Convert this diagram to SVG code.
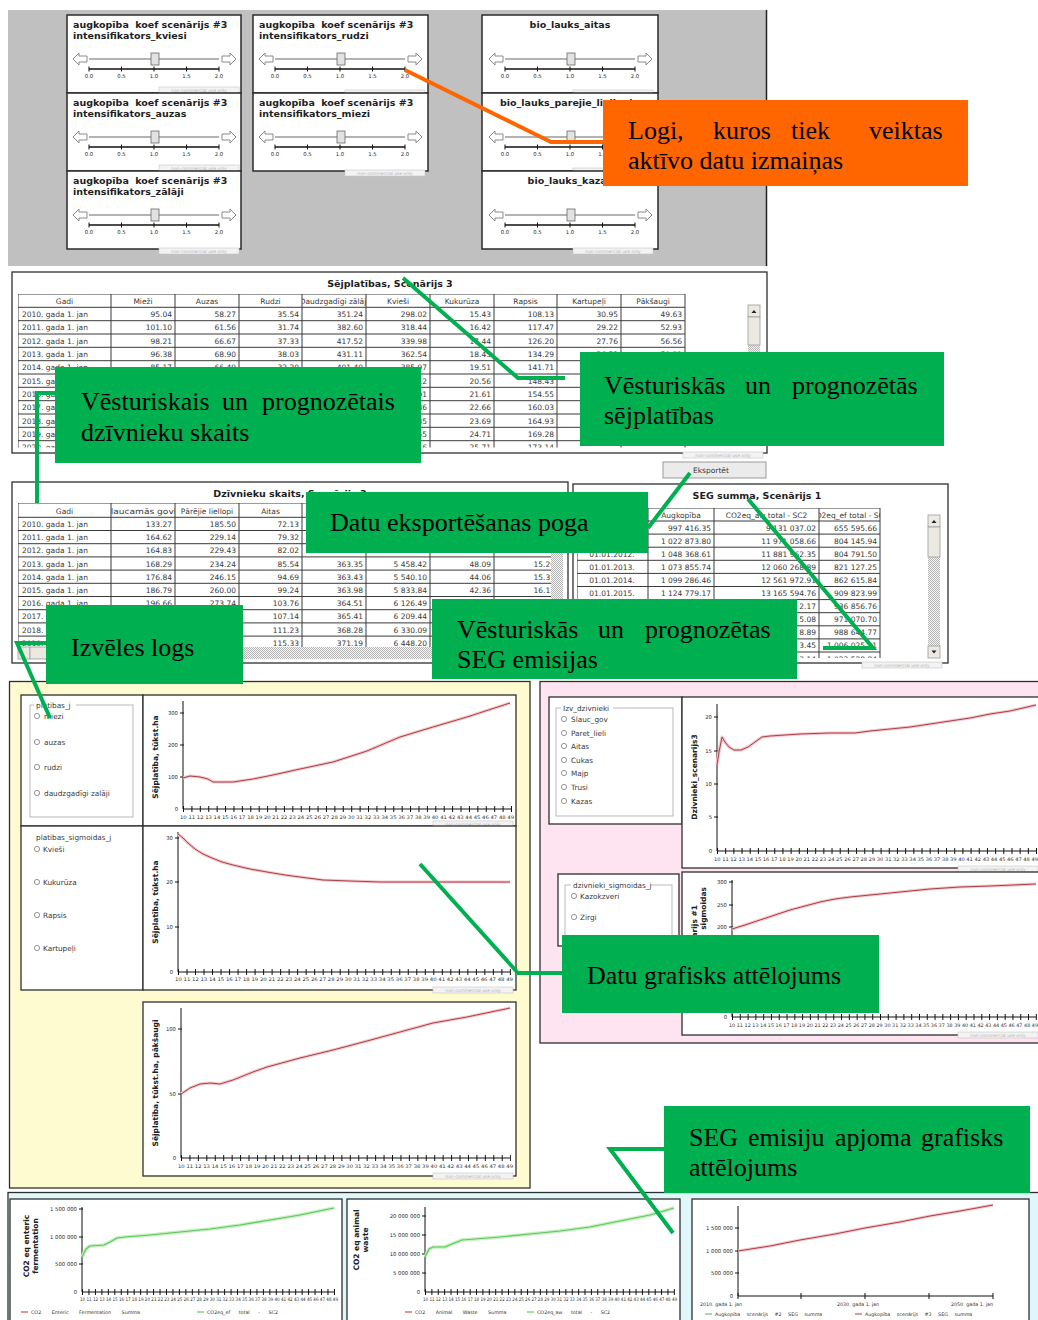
<svg xmlns="http://www.w3.org/2000/svg" width="1038" height="1320" viewBox="0 0 1038 1320">
<style>
text{font-family:"DejaVu Sans",Verdana,sans-serif}
.t{font-size:9.5px;font-weight:bold;fill:#1e1e1e}
.c{font-size:7.5px;fill:#383838}
.r{text-anchor:end}
.m{text-anchor:middle}
.s{font-size:5.3px;fill:#2a2a2a}
.xs{font-size:4.8px;fill:#333}
.yl{font-size:7.5px;font-weight:bold;fill:#202020}
.rt{font-size:7.3px;fill:#3a3a3a}
.wt{font-size:4.4px;fill:#b4b4b4}
.pn{fill:#fff;stroke:#2a2a2a;stroke-width:1.5}
.fr{fill:#fff;stroke:#2e2e2e;stroke-width:1.3}
.grid{fill:none;stroke:#3a3a3a;stroke-width:1}
.ax{fill:none;stroke:#111;stroke-width:1}
.tk{fill:none;stroke:#111;stroke-width:6}
.hr{fill:none;stroke:#f5c6c8;stroke-width:3.2;stroke-linejoin:round}
.lr{fill:none;stroke:#a8404c;stroke-width:1;stroke-linejoin:round}
.hg{fill:none;stroke:#c6f0c0;stroke-width:3.6;stroke-linejoin:round}
.lg{fill:none;stroke:#5cc85c;stroke-width:1.2;stroke-linejoin:round}
.arw{fill:#fff;stroke:#8a8a8a;stroke-width:1}
.rb{fill:#fff;stroke:#7a7a7a;stroke-width:.8}
.gb{fill:none;stroke:#a8a8a8;stroke-width:.8}
.co{fill:#00b050}
.ct{font-family:"Liberation Serif","Times New Roman",serif;font-size:26px;fill:#000}
.cn{fill:none;stroke:#00b050;stroke-width:4}
.sb{fill:#ece9e2;stroke:#9c9c9c;stroke-width:.8}
</style>
<defs>
<pattern id="dots" width="2" height="2" patternUnits="userSpaceOnUse"><rect width="2" height="2" fill="#f2f2f2"/><rect width="1" height="1" fill="#b8b8b8"/><rect x="1" y="1" width="1" height="1" fill="#b8b8b8"/></pattern>
<g id="slider">
 <polygon class="arw" points="6,44 12,38 12,41 20,41 20,47 12,47 12,50"/>
 <line x1="22" y1="44" x2="152" y2="44" stroke="#9a9a9a" stroke-width="1.4"/>
 <polygon class="arw" points="169,44 163,38 163,41 155,41 155,47 163,47 163,50"/>
 <rect x="84" y="38" width="8" height="12" fill="#e2e2e2" stroke="#686868" stroke-width=".8"/>
 <line x1="22" y1="54" x2="152" y2="54" stroke="#111" stroke-width="1.3"/>
 <path d="M22,51.5v5M54.5,51.5v5M87,51.5v5M119.5,51.5v5M152,51.5v5" stroke="#111"/>
 <text class="s m" y="63"><tspan x="22">0.0</tspan><tspan x="54.5">0.5</tspan><tspan x="87">1.0</tspan><tspan x="119.5">1.5</tspan><tspan x="152">2.0</tspan></text>
</g>
<g id="wm"><rect width="80" height="6" fill="#f3f3f3" stroke="#c6c6c6" stroke-width=".6"/><text class="wt m" x="40" y="4.6">non-commercial use only</text></g>
<g id="btnUp"><rect class="sb" width="12" height="12"/><path d="M3.5,8h5l-2.5,-3z" fill="#222"/></g>
<g id="btnDn"><rect class="sb" width="12" height="12"/><path d="M3.5,4.5h5l-2.5,3z" fill="#222"/></g>
<clipPath id="cT1"><rect x="18" y="294" width="729" height="153.5"/></clipPath>
<clipPath id="cT1h"><rect x="302" y="294" width="64" height="13"/></clipPath>
<clipPath id="cT2"><rect x="18" y="503" width="533" height="144"/></clipPath>
<clipPath id="cT2h"><rect x="111" y="503" width="64" height="14"/></clipPath>
<clipPath id="cT3"><rect x="577" y="508" width="349" height="150"/></clipPath>
<clipPath id="cT3h"><rect x="819" y="508" width="61" height="13"/></clipPath>
</defs>

<rect width="1038" height="1320" fill="#fff"/>

<!-- slider control window -->
<g id="slider-window">
 <rect x="8" y="10" width="759" height="256" fill="#c0c0c0"/>
 <line x1="766.5" y1="10" x2="766.5" y2="266" stroke="#222" stroke-width="1.5"/>
 <g id="sl-kviesi"><rect class="pn" x="67" y="15" width="174" height="78"/><use href="#slider" x="67" y="15"/>
  <text class="t" x="73" y="28">augkopība <tspan dx="3">koef scenārijs #3</tspan></text><text class="t" x="73" y="39">intensifikators_kviesi</text><use href="#wm" x="159" y="87"/></g>
 <g id="sl-auzas"><rect class="pn" x="67" y="93" width="174" height="78"/><use href="#slider" x="67" y="93"/>
  <text class="t" x="73" y="106">augkopība <tspan dx="3">koef scenārijs #3</tspan></text><text class="t" x="73" y="117">intensifikators_auzas</text><use href="#wm" x="159" y="165"/></g>
 <g id="sl-zalaji"><rect class="pn" x="67" y="171" width="174" height="78"/><use href="#slider" x="67" y="171"/>
  <text class="t" x="73" y="184">augkopība <tspan dx="3">koef scenārijs #3</tspan></text><text class="t" x="73" y="195">intensifikators_zālāji</text><use href="#wm" x="159" y="248"/></g>
 <g id="sl-rudzi"><rect class="pn" x="253" y="15" width="175" height="78"/><use href="#slider" x="253" y="15"/>
  <text class="t" x="259" y="28">augkopība <tspan dx="3">koef scenārijs #3</tspan></text><text class="t" x="259" y="39">intensifikators_rudzi</text><use href="#wm" x="345" y="90"/></g>
 <g id="sl-miezi"><rect class="pn" x="253" y="93" width="175" height="78"/><use href="#slider" x="253" y="93"/>
  <text class="t" x="259" y="106">augkopība <tspan dx="3">koef scenārijs #3</tspan></text><text class="t" x="259" y="117">intensifikators_miezi</text><use href="#wm" x="345" y="170"/></g>
 <g id="sl-aitas"><rect class="pn" x="482" y="15" width="176" height="78"/><use href="#slider" x="483" y="15"/>
  <text class="t m" x="570" y="28">bio_lauks_aitas</text><use href="#wm" x="573" y="90"/></g>
 <g id="sl-parejie"><rect class="pn" x="482" y="93" width="176" height="78"/><use href="#slider" x="483" y="93"/>
  <text class="t" x="500" y="106">bio_lauks_parejie_liellopi</text><use href="#wm" x="573" y="168"/></g>
 <g id="sl-kazas"><rect class="pn" x="482" y="171" width="176" height="78"/><use href="#slider" x="483" y="171"/>
  <text class="t m" x="570" y="184">bio_lauks_kazas</text><use href="#wm" x="573" y="248"/></g>
</g>

<!-- sowing area table -->
<g id="table-sejplatibas">
 <rect class="fr" x="12" y="272" width="755" height="181"/>
 <text class="t m" x="390" y="287">Sējplatības, Scenārijs 3</text>
 <g clip-path="url(#cT1)">
  <path class="grid" d="M18,294V448M111,294V448M175,294V448M239,294V448M302,294V448M366,294V448M430,294V448M494,294V448M557,294V448M621,294V448M685,294V448M18,294H685M18,307.3H685M18,320.7H685M18,334H685M18,347.3H685M18,360.7H685M18,374H685M18,387.3H685M18,400.7H685M18,414H685M18,427.3H685M18,440.7H685"/>
  <text class="c m" y="303.5"><tspan x="64.5">Gadi</tspan><tspan x="143">Mieži</tspan><tspan x="207">Auzas</tspan><tspan x="270.5">Rudzi</tspan><tspan x="398">Kvieši</tspan><tspan x="462">Kukurūza</tspan><tspan x="525.5">Rapsis</tspan><tspan x="589">Kartupeļi</tspan><tspan x="653">Pākšaugi</tspan></text>
  <text class="c m" x="334" y="303.5" clip-path="url(#cT1h)">Daudzgadīgi zālāji</text>
  <g class="c">
   <text x="22" y="316.9">2010. gada 1. jan</text><text x="22" y="330.3">2011. gada 1. jan</text><text x="22" y="343.6">2012. gada 1. jan</text><text x="22" y="356.9">2013. gada 1. jan</text><text x="22" y="370.3">2014. gada 1. jan</text><text x="22" y="383.6">2015. ga</text><text x="22" y="396.9">2016. ga</text><text x="22" y="410.3">2017. ga</text><text x="22" y="423.6">2018. ga</text><text x="22" y="436.9">2019. ga</text><text x="22" y="450.3">2020. ga</text>
  </g>
  <g class="c r">
   <text y="316.9"><tspan x="172">95.04</tspan><tspan x="236">58.27</tspan><tspan x="299">35.54</tspan><tspan x="363">351.24</tspan><tspan x="427">298.02</tspan><tspan x="491">15.43</tspan><tspan x="554">108.13</tspan><tspan x="618">30.95</tspan><tspan x="682">49.63</tspan></text>
   <text y="330.3"><tspan x="172">101.10</tspan><tspan x="236">61.56</tspan><tspan x="299">31.74</tspan><tspan x="363">382.60</tspan><tspan x="427">318.44</tspan><tspan x="491">16.42</tspan><tspan x="554">117.47</tspan><tspan x="618">29.22</tspan><tspan x="682">52.93</tspan></text>
   <text y="343.6"><tspan x="172">98.21</tspan><tspan x="236">66.67</tspan><tspan x="299">37.33</tspan><tspan x="363">417.52</tspan><tspan x="427">339.98</tspan><tspan x="491">17.44</tspan><tspan x="554">126.20</tspan><tspan x="618">27.76</tspan><tspan x="682">56.56</tspan></text>
   <text y="356.9"><tspan x="172">96.38</tspan><tspan x="236">68.90</tspan><tspan x="299">38.03</tspan><tspan x="363">431.11</tspan><tspan x="427">362.54</tspan><tspan x="491">18.45</tspan><tspan x="554">134.29</tspan><tspan x="618">26.52</tspan><tspan x="682">59.81</tspan></text>
   <text y="370.3"><tspan x="172">85.17</tspan><tspan x="236">66.49</tspan><tspan x="299">32.20</tspan><tspan x="363">401.40</tspan><tspan x="427">385.97</tspan><tspan x="491">19.51</tspan><tspan x="554">141.71</tspan></text>
   <text y="383.6"><tspan x="427">409.12</tspan><tspan x="491">20.56</tspan><tspan x="554">148.43</tspan></text>
   <text y="396.9"><tspan x="427">432.91</tspan><tspan x="491">21.61</tspan><tspan x="554">154.55</tspan></text>
   <text y="410.3"><tspan x="427">455.86</tspan><tspan x="491">22.66</tspan><tspan x="554">160.03</tspan></text>
   <text y="423.6"><tspan x="427">478.35</tspan><tspan x="491">23.69</tspan><tspan x="554">164.93</tspan></text>
   <text y="436.9"><tspan x="427">500.55</tspan><tspan x="491">24.71</tspan><tspan x="554">169.28</tspan></text>
   <text y="450.3"><tspan x="427">522.16</tspan><tspan x="491">25.71</tspan><tspan x="554">173.14</tspan></text>
  </g>
 </g>
 <rect x="748" y="305" width="12" height="141" fill="url(#dots)"/>
 <use href="#btnUp" x="748" y="305"/>
 <rect class="sb" x="748" y="317" width="12" height="28"/>
 <use href="#wm" x="683" y="452"/>
</g>

<g id="btn-eksportet">
 <rect x="663" y="462" width="103" height="16" fill="#ebebeb" stroke="#9a9a9a"/>
 <text class="c" x="693" y="473">Eksportēt</text>
</g>

<!-- livestock table -->
<g id="table-dzivnieki">
 <rect class="fr" x="12" y="482" width="556" height="181"/>
 <text class="t m" x="290" y="497">Dzīvnieku skaits, Scenārijs 3</text>
 <g clip-path="url(#cT2)">
  <path class="grid" d="M18,503V647M111,503V647M175,503V647M239,503V647M302,503V647M366,503V647M430,503V647M494,503V647M557,503V647M18,503H557M18,517.3H557M18,530.5H557M18,543.7H557M18,556.9H557M18,570.1H557M18,583.3H557M18,596.5H557M18,609.7H557M18,622.9H557M18,636.1H557"/>
  <text class="c m" y="513.5"><tspan x="64.5">Gadi</tspan><tspan x="207">Pārējie liellopi</tspan><tspan x="270.5">Aitas</tspan></text>
  <text class="c m" x="143" y="513.5" textLength="76" lengthAdjust="spacingAndGlyphs" clip-path="url(#cT2h)">Slaucamās govis</text>
  <g class="c">
   <text x="22" y="526.9">2010. gada 1. jan</text><text x="22" y="540.1">2011. gada 1. jan</text><text x="22" y="553.3">2012. gada 1. jan</text><text x="22" y="566.5">2013. gada 1. jan</text><text x="22" y="579.7">2014. gada 1. jan</text><text x="22" y="592.9">2015. gada 1. jan</text><text x="22" y="606.1">2016. gada 1. jan</text><text x="22" y="619.3">2017.</text><text x="22" y="632.5">2018.</text><text x="22" y="645.7">2019.</text>
  </g>
  <g class="c r">
   <text y="526.9"><tspan x="172">133.27</tspan><tspan x="236">185.50</tspan><tspan x="299">72.13</tspan></text>
   <text y="540.1"><tspan x="172">164.62</tspan><tspan x="236">229.14</tspan><tspan x="299">79.32</tspan></text>
   <text y="553.3"><tspan x="172">164.83</tspan><tspan x="236">229.43</tspan><tspan x="299">82.02</tspan><tspan x="363">362.63</tspan><tspan x="427">5 376.09</tspan><tspan x="491">51.57</tspan><tspan x="555">15.01</tspan></text>
   <text y="566.5"><tspan x="172">168.29</tspan><tspan x="236">234.24</tspan><tspan x="299">85.54</tspan><tspan x="363">363.35</tspan><tspan x="427">5 458.42</tspan><tspan x="491">48.09</tspan><tspan x="555">15.26</tspan></text>
   <text y="579.7"><tspan x="172">176.84</tspan><tspan x="236">246.15</tspan><tspan x="299">94.69</tspan><tspan x="363">363.43</tspan><tspan x="427">5 540.10</tspan><tspan x="491">44.06</tspan><tspan x="555">15.37</tspan></text>
   <text y="592.9"><tspan x="172">186.79</tspan><tspan x="236">260.00</tspan><tspan x="299">99.24</tspan><tspan x="363">363.98</tspan><tspan x="427">5 833.84</tspan><tspan x="491">42.36</tspan><tspan x="555">16.12</tspan></text>
   <text y="606.1"><tspan x="172">196.66</tspan><tspan x="236">273.74</tspan><tspan x="299">103.76</tspan><tspan x="363">364.51</tspan><tspan x="427">6 126.49</tspan></text>
   <text y="619.3"><tspan x="299">107.14</tspan><tspan x="363">365.41</tspan><tspan x="427">6 209.44</tspan></text>
   <text y="632.5"><tspan x="299">111.23</tspan><tspan x="363">368.28</tspan><tspan x="427">6 330.09</tspan></text>
   <text y="645.7"><tspan x="299">115.33</tspan><tspan x="363">371.19</tspan><tspan x="427">6 448.20</tspan></text>
  </g>
 </g>
 <rect x="551" y="503" width="12" height="144" fill="url(#dots)"/>
 <use href="#btnUp" x="551" y="503"/>
 <rect class="sb" x="551" y="515" width="12" height="30"/>
 <rect x="18" y="647" width="533" height="12" fill="url(#dots)"/>
 <rect class="sb" x="18" y="647" width="12" height="12"/>
 <rect class="sb" x="30" y="647" width="170" height="12"/>
 <rect class="sb" x="551" y="647" width="12" height="12"/>
</g>

<!-- GHG totals table -->
<g id="table-seg">
 <rect class="fr" x="573" y="484" width="375" height="179"/>
 <text class="t m" x="757" y="499">SEG summa, Scenārijs 1</text>
 <g clip-path="url(#cT3)">
  <path class="grid" d="M577,508V660M648,508V660M714,508V660M819,508V660M880,508V660M577,508H880M577,521H880M577,534.1H880M577,547.2H880M577,560.3H880M577,573.4H880M577,586.5H880M577,599.6H880M577,612.7H880M577,625.8H880M577,638.9H880M577,652H880"/>
  <text class="c m" y="517.5"><tspan x="681">Augkopība</tspan><tspan x="766.5">CO2eq_aw total - SC2</tspan></text>
  <text class="c m" x="849.5" y="517.5" clip-path="url(#cT3h)">CO2eq_ef total - SC2</text>
  <text class="c m" x="612" y="556.7">01.01.2012.</text>
  <text class="c m" x="612" y="569.8">01.01.2013.</text>
  <text class="c m" x="612" y="582.9">01.01.2014.</text>
  <text class="c m" x="612" y="596">01.01.2015.</text>
  <g class="c r">
   <text y="530.5"><tspan x="711">997 416.35</tspan><tspan x="816">9 131 037.02</tspan><tspan x="877">655 595.66</tspan></text>
   <text y="543.6"><tspan x="711">1 022 873.80</tspan><tspan x="816">11 971 058.66</tspan><tspan x="877">804 145.94</tspan></text>
   <text y="556.7"><tspan x="711">1 048 368.61</tspan><tspan x="816">11 881 962.35</tspan><tspan x="877">804 791.50</tspan></text>
   <text y="569.8"><tspan x="711">1 073 855.74</tspan><tspan x="816">12 060 268.89</tspan><tspan x="877">821 127.25</tspan></text>
   <text y="582.9"><tspan x="711">1 099 286.46</tspan><tspan x="816">12 561 972.91</tspan><tspan x="877">862 615.84</tspan></text>
   <text y="596"><tspan x="711">1 124 779.17</tspan><tspan x="816">13 165 594.76</tspan><tspan x="877">909 823.99</tspan></text>
   <text y="609.1"><tspan x="816">2.17</tspan><tspan x="877">936 856.76</tspan></text>
   <text y="622.2"><tspan x="816">5.08</tspan><tspan x="877">971 070.70</tspan></text>
   <text y="635.3"><tspan x="816">8.89</tspan><tspan x="877">988 644.77</tspan></text>
   <text y="648.4"><tspan x="816">3.45</tspan><tspan x="877">1 006 025.11</tspan></text>
   <text y="661.5"><tspan x="816">3.14</tspan><tspan x="877">1 023 528.84</tspan></text>
  </g>
 </g>
 <rect x="928" y="515" width="12" height="143" fill="url(#dots)"/>
 <use href="#btnUp" x="928" y="515"/>
 <rect class="sb" x="928" y="527" width="12" height="30"/>
 <use href="#btnDn" x="928" y="646"/>
 <use href="#wm" x="862" y="662"/>
</g>

<!-- sowing area charts -->
<g id="panel-sejplatibas-grafiki">
 <rect x="9.5" y="681.5" width="520.5" height="506.5" fill="#fffbd0" stroke="#2e2e2e" stroke-width="1.3"/>
 <g id="radio-platibas">
  <rect class="fr" x="21" y="695" width="122" height="131"/>
  <rect class="gb" x="30" y="705" width="103" height="112"/>
  <rect x="34" y="701" width="42" height="8" fill="#fff"/>
  <text class="rt" x="36" y="707.5">platibas_j</text>
  <circle class="rb" cx="37" cy="716" r="2.6"/><text class="rt" x="44" y="719">miezi</text>
  <circle class="rb" cx="37" cy="742" r="2.6"/><text class="rt" x="44" y="745">auzas</text>
  <circle class="rb" cx="37" cy="767" r="2.6"/><text class="rt" x="44" y="770">rudzi</text>
  <circle class="rb" cx="37" cy="793" r="2.6"/><text class="rt" x="44" y="796">daudzgadīgi zalāji</text>
 </g>
 <g id="chart-platibas">
  <rect class="fr" x="143" y="695" width="373" height="131"/>
  <path class="ax" d="M183,701V809H511M180,713h4M180,745h4M180,777h4"/>
  <path class="tk" d="M183,809H512" stroke-dasharray="1 7.41"/>
  <text class="s r" x="178"><tspan y="715">300</tspan><tspan x="178" y="747">200</tspan><tspan x="178" y="779">100</tspan><tspan x="178" y="811">0</tspan></text>
  <text class="xs" x="180" y="819" textLength="334" lengthAdjust="spacingAndGlyphs">10 11 12 13 14 15 16 17 18 19 20 21 22 23 24 25 26 27 28 29 30 31 32 33 34 35 36 37 38 39 40 41 42 43 44 45 46 47 48 49</text>
  <text class="yl m" transform="translate(158,757) rotate(-90)">Sējplatība, tūkst.ha</text>
  <polyline class="hr" points="183,778 190,776 200,777 208,779 213,782 233,782 253,779 273,775 300,769 333,762 367,751 400,737 433,727 467,717 510,703"/>
  <polyline class="lr" points="183,778 190,776 200,777 208,779 213,782 233,782 253,779 273,775 300,769 333,762 367,751 400,737 433,727 467,717 510,703"/>
  <use href="#wm" x="433" y="821"/>
 </g>
 <g id="radio-sigmoidas">
  <rect class="fr" x="21" y="826" width="122" height="164"/>
  <text class="rt" x="36" y="840">platibas_sigmoidas_j</text>
  <circle class="rb" cx="37" cy="849" r="2.6"/><text class="rt" x="43" y="852">Kvieši</text>
  <circle class="rb" cx="37" cy="882" r="2.6"/><text class="rt" x="43" y="885">Kukurūza</text>
  <circle class="rb" cx="37" cy="915" r="2.6"/><text class="rt" x="43" y="918">Rapsis</text>
  <circle class="rb" cx="37" cy="948" r="2.6"/><text class="rt" x="43" y="951">Kartupeļi</text>
 </g>
 <g id="chart-sigmoidas">
  <rect class="fr" x="143" y="826" width="373" height="164"/>
  <path class="ax" d="M178,832V972H510M175,838h4M175,882h4M175,927h4"/>
  <path class="tk" d="M178,972H511" stroke-dasharray="1 7.51"/>
  <text class="s r" x="173"><tspan y="840">30</tspan><tspan x="173" y="884">20</tspan><tspan x="173" y="929">10</tspan><tspan x="173" y="974">0</tspan></text>
  <text class="xs" x="175" y="981" textLength="338" lengthAdjust="spacingAndGlyphs">10 11 12 13 14 15 16 17 18 19 20 21 22 23 24 25 26 27 28 29 30 31 32 33 34 35 36 37 38 39 40 41 42 43 44 45 46 47 48 49</text>
  <text class="yl m" transform="translate(158,902) rotate(-90)">Sējplatība, tūkst.ha</text>
  <polyline class="hr" points="178,834 183,838 188,843 195,849 203,854 212,858 222,862 233,865 250,869 267,872 285,875 300,877 323,880 350,881 380,882 510,882"/>
  <polyline class="lr" points="178,834 183,838 188,843 195,849 203,854 212,858 222,862 233,865 250,869 267,872 285,875 300,877 323,880 350,881 380,882 510,882"/>
  <use href="#wm" x="433" y="987"/>
 </g>
 <g id="chart-pakshaugi">
  <rect class="fr" x="143" y="1002" width="373" height="174"/>
  <path class="ax" d="M181,1008V1158H510M178,1029h4M178,1094h4"/>
  <path class="tk" d="M181,1158H511" stroke-dasharray="1 7.44"/>
  <text class="s r" x="176"><tspan y="1031">100</tspan><tspan x="176" y="1096">50</tspan><tspan x="176" y="1160">0</tspan></text>
  <text class="xs" x="178" y="1168" textLength="335" lengthAdjust="spacingAndGlyphs">10 11 12 13 14 15 16 17 18 19 20 21 22 23 24 25 26 27 28 29 30 31 32 33 34 35 36 37 38 39 40 41 42 43 44 45 46 47 48 49</text>
  <text class="yl m" transform="translate(158,1083) rotate(-90)">Sējplatība, tūkst.ha, pākšaugi</text>
  <polyline class="hr" points="181,1094 190,1088 200,1084 210,1083 220,1084 233,1080 253,1072 267,1067 300,1058 333,1050 367,1041 400,1032 433,1023 467,1017 510,1008"/>
  <polyline class="lr" points="181,1094 190,1088 200,1084 210,1083 220,1084 233,1080 253,1072 267,1067 300,1058 333,1050 367,1041 400,1032 433,1023 467,1017 510,1008"/>
  <use href="#wm" x="433" y="1173"/>
 </g>
</g>

<!-- livestock charts -->
<g id="panel-dzivnieki-grafiki">
 <rect x="540" y="681.5" width="500" height="361.5" fill="#fde4f0" stroke="#2e2e2e" stroke-width="1.3"/>
 <g id="radio-dzivnieki">
  <rect class="fr" x="549" y="697" width="133" height="127"/>
  <rect class="gb" x="556" y="708" width="117" height="108"/>
  <rect x="561" y="704" width="52" height="8" fill="#fff"/>
  <text class="rt" x="563" y="710.5">Izv_dzivnieki</text>
  <circle class="rb" cx="564" cy="719" r="2.6"/><text class="rt" x="571" y="722">Slauc_gov</text>
  <circle class="rb" cx="564" cy="733" r="2.6"/><text class="rt" x="571" y="736">Paret_lieli</text>
  <circle class="rb" cx="564" cy="746" r="2.6"/><text class="rt" x="571" y="749">Aitas</text>
  <circle class="rb" cx="564" cy="760" r="2.6"/><text class="rt" x="571" y="763">Cukas</text>
  <circle class="rb" cx="564" cy="773" r="2.6"/><text class="rt" x="571" y="776">Majp</text>
  <circle class="rb" cx="564" cy="787" r="2.6"/><text class="rt" x="571" y="790">Trusi</text>
  <circle class="rb" cx="564" cy="801" r="2.6"/><text class="rt" x="571" y="804">Kazas</text>
 </g>
 <g id="chart-dzivnieki">
  <rect class="fr" x="682" y="697" width="360" height="171"/>
  <path class="ax" d="M717,704V851H1036M714,717h4M714,751h4M714,784h4M714,817h4"/>
  <path class="tk" d="M717,851H1037" stroke-dasharray="1 7.18"/>
  <text class="s r" x="712"><tspan y="719">20</tspan><tspan x="712" y="753">15</tspan><tspan x="712" y="786">10</tspan><tspan x="712" y="819">5</tspan><tspan x="712" y="853">0</tspan></text>
  <text class="xs" x="714" y="861" textLength="324" lengthAdjust="spacingAndGlyphs">10 11 12 13 14 15 16 17 18 19 20 21 22 23 24 25 26 27 28 29 30 31 32 33 34 35 36 37 38 39 40 41 42 43 44 45 46 47 48 49</text>
  <text class="yl m" transform="translate(697,777) rotate(-90)">Dzivnieki_scenarijs3</text>
  <polyline class="hr" points="717,765 719,752 722,737 725,742 729,747 734,750 741,750 748,747 755,742 762,737 770,736 785,735 800,734 830,733 855,733 870,731 890,729 910,727 930,724 950,721 970,718 990,714 1010,711 1036,705"/>
  <polyline class="lr" points="717,765 719,752 722,737 725,742 729,747 734,750 741,750 748,747 755,742 762,737 770,736 785,735 800,734 830,733 855,733 870,731 890,729 910,727 930,724 950,721 970,718 990,714 1010,711 1036,705"/>
  <use href="#wm" x="958" y="866"/>
 </g>
 <g id="chart-dzivnieki-sigmoidas">
  <rect class="fr" x="682" y="872" width="360" height="163"/>
  <path class="ax" d="M732,880V1017H1036M729,882h4M729,905h4M729,927h4"/>
  <path class="tk" d="M732,1017H1037" stroke-dasharray="1 6.79"/>
  <text class="s r" x="727"><tspan y="884">300</tspan><tspan x="727" y="907">250</tspan><tspan x="727" y="929">200</tspan><tspan x="727" y="1019">0</tspan></text>
  <text class="xs" x="729" y="1027" textLength="309" lengthAdjust="spacingAndGlyphs">10 11 12 13 14 15 16 17 18 19 20 21 22 23 24 25 26 27 28 29 30 31 32 33 34 35 36 37 38 39 40 41 42 43 44 45 46 47 48 49</text>
  <text class="yl r" transform="translate(697,905) rotate(-90)">Dzivnieki_scenarijs #1</text>
  <text class="yl r" transform="translate(706,887) rotate(-90)">sigmoidas</text>
  <polyline class="hr" points="732,929 745,925 760,920 775,915 790,910 805,906 820,902 835,899 850,897 870,895 890,893 910,891 930,889 960,887 990,886 1036,884"/>
  <polyline class="lr" points="732,929 745,925 760,920 775,915 790,910 805,906 820,902 835,899 850,897 870,895 890,893 910,891 930,889 960,887 990,886 1036,884"/>
  <use href="#wm" x="958" y="1032"/>
 </g>
 <g id="radio-dzivnieki-sigmoidas">
  <rect class="fr" x="558" y="874" width="121" height="72"/>
  <rect class="gb" x="565" y="885" width="107" height="55"/>
  <rect x="571" y="881" width="80" height="8" fill="#fff"/>
  <text class="rt" x="573" y="887.5">dzivnieki_sigmoidas_j</text>
  <circle class="rb" cx="574" cy="896" r="2.6"/><text class="rt" x="580" y="899">Kazokzveri</text>
  <circle class="rb" cx="574" cy="917" r="2.6"/><text class="rt" x="580" y="920">Zirgi</text>
 </g>
</g>

<!-- emission charts -->
<g id="panel-seg-grafiki">
 <rect x="8" y="1192.5" width="1032" height="130" fill="#dff7f8" stroke="#2e2e2e" stroke-width="1.3"/>
 <g id="chart-enteric">
  <rect class="fr" x="10" y="1199" width="332" height="125"/>
  <path class="ax" d="M82,1207V1292H334M79,1209h4M79,1237h4M79,1264h4"/>
  <path class="tk" d="M82,1292H335" stroke-dasharray="1 5.46"/>
  <text class="s r" x="77"><tspan y="1211">1 500 000</tspan><tspan x="77" y="1239">1 000 000</tspan><tspan x="77" y="1266">500 000</tspan><tspan x="77" y="1294">0</tspan></text>
  <text class="xs" x="80" y="1301" textLength="258" lengthAdjust="spacingAndGlyphs">10 11 12 13 14 15 16 17 18 19 20 21 22 23 24 25 26 27 28 29 30 31 32 33 34 35 36 37 38 39 40 41 42 43 44 45 46 47 48 49</text>
  <text class="yl m" transform="translate(29,1246) rotate(-90)">CO2 eq enteric</text>
  <text class="yl m" transform="translate(38,1246) rotate(-90)">fermentation</text>
  <polyline class="hg" points="82,1257 86,1249 90,1246 104,1245 110,1242 117,1238 125,1237 150,1235 180,1232 210,1229 240,1225 270,1220 300,1215 334,1208"/>
  <polyline class="lg" points="82,1257 86,1249 90,1246 104,1245 110,1242 117,1238 125,1237 150,1235 180,1232 210,1229 240,1225 270,1220 300,1215 334,1208"/>
  <path d="M21,1312h7" stroke="#c03030"/><text class="xs" x="31" y="1314" word-spacing="9">CO2 Enteric Fermentation Summa</text>
  <path d="M197,1312h7" stroke="#40c040"/><text class="xs" x="207" y="1314" word-spacing="7">CO2eq_ef total - SC2</text>
 </g>
 <g id="chart-animal-waste">
  <rect class="fr" x="347" y="1199" width="333" height="125"/>
  <path class="ax" d="M425,1207V1292H674M422,1216h4M422,1235h4M422,1254h4M422,1273h4"/>
  <path class="tk" d="M425,1292H675" stroke-dasharray="1 5.38"/>
  <text class="s r" x="420"><tspan y="1218">20 000 000</tspan><tspan x="420" y="1237">15 000 000</tspan><tspan x="420" y="1256">10 000 000</tspan><tspan x="420" y="1275">5 000 000</tspan><tspan x="420" y="1294">0</tspan></text>
  <text class="xs" x="423" y="1301" textLength="254" lengthAdjust="spacingAndGlyphs">10 11 12 13 14 15 16 17 18 19 20 21 22 23 24 25 26 27 28 29 30 31 32 33 34 35 36 37 38 39 40 41 42 43 44 45 46 47 48 49</text>
  <text class="yl m" transform="translate(359,1240) rotate(-90)">CO2 eq animal</text>
  <text class="yl m" transform="translate(368,1240) rotate(-90)">waste</text>
  <polyline class="hg" points="425,1257 429,1249 433,1247 445,1247 452,1244 462,1240 475,1239 500,1237 530,1234 560,1231 590,1227 620,1221 650,1215 674,1208"/>
  <polyline class="lg" points="425,1257 429,1249 433,1247 445,1247 452,1244 462,1240 475,1239 500,1237 530,1234 560,1231 590,1227 620,1221 650,1215 674,1208"/>
  <path d="M405,1312h7" stroke="#c03030"/><text class="xs" x="415" y="1314" word-spacing="9">CO2 Animal Waste Summa</text>
  <path d="M527,1312h7" stroke="#40c040"/><text class="xs" x="537" y="1314" word-spacing="7">CO2eq_aw total - SC2</text>
 </g>
 <g id="chart-augkopiba-seg">
  <rect class="fr" x="692" y="1199" width="337" height="125"/>
  <path class="ax" d="M738,1206V1296H993M735,1228h4M735,1251h4M735,1273h4M738,1293v6M801,1293v6M865,1293v6M929,1293v6M993,1293v6"/>
  <text class="s r" x="733"><tspan y="1230">1 500 000</tspan><tspan x="733" y="1253">1 000 000</tspan><tspan x="733" y="1275">500 000</tspan><tspan x="733" y="1298">0</tspan></text>
  <text class="xs m" y="1306"><tspan x="721">2010. gada 1. jan</tspan><tspan x="858">2030. gada 1. jan</tspan><tspan x="972">2050. gada 1. jan</tspan></text>
  <polyline class="hr" points="738,1251 770,1246 800,1240 835,1234 865,1228 900,1222 930,1216 960,1211 993,1205"/>
  <polyline class="lr" points="738,1251 770,1246 800,1240 835,1234 865,1228 900,1222 930,1216 960,1211 993,1205"/>
  <path d="M705,1314h7" stroke="#40c040"/><text class="xs" x="715" y="1316" word-spacing="5">Augkopība scenārijs #2 SEG summa</text>
  <path d="M855,1314h7" stroke="#c03030"/><text class="xs" x="865" y="1316" word-spacing="5">Augkopība scenārijs #3 SEG summa</text>
 </g>
</g>

<!-- annotation leader lines -->
<g id="connectors">
 <path d="M405,70L551,142H603" fill="none" stroke="#ff6600" stroke-width="4"/>
 <path class="cn" d="M55,393H37V503"/>
 <path class="cn" d="M403,278L518,378H565"/>
 <path class="cn" d="M648,528L690,473"/>
 <path class="cn" d="M823,648H873L748,499"/>
 <path class="cn" d="M46,643H17L50,718"/>
 <path class="cn" d="M420,864L518,973H562"/>
 <path class="cn" d="M664,1149H610L673,1233"/>
</g>

<!-- annotation boxes -->
<g id="callout-logi">
 <rect x="603" y="100" width="365" height="86" fill="#ff6600"/>
 <text class="ct" y="139"><tspan x="628">Logi,</tspan><tspan x="713">kuros</tspan><tspan x="791">tiek</tspan><tspan x="869">veiktas</tspan></text>
 <text class="ct" x="628" y="169">aktīvo datu izmaiņas</text>
</g>
<g id="callout-dzivnieki">
 <rect class="co" x="55" y="367" width="366" height="96"/>
 <text class="ct" y="410"><tspan x="81">Vēsturiskais</tspan><tspan x="222">un</tspan><tspan x="262">prognozētais</tspan></text>
 <text class="ct" x="81" y="441">dzīvnieku skaits</text>
</g>
<g id="callout-sejplatibas">
 <rect class="co" x="580" y="352" width="364" height="94"/>
 <text class="ct" y="394"><tspan x="604">Vēsturiskās</tspan><tspan x="745">un</tspan><tspan x="792">prognozētās</tspan></text>
 <text class="ct" x="604" y="424">sējplatības</text>
</g>
<g id="callout-eksports">
 <rect class="co" x="306" y="492" width="342" height="61"/>
 <text class="ct" x="330" y="531">Datu eksportēšanas poga</text>
</g>
<g id="callout-seg-emisijas">
 <rect class="co" x="432" y="599" width="365" height="80"/>
 <text class="ct" y="638"><tspan x="457">Vēsturiskās</tspan><tspan x="598">un</tspan><tspan x="645">prognozētas</tspan></text>
 <text class="ct" x="457" y="668">SEG emisijas</text>
</g>
<g id="callout-izveles">
 <rect class="co" x="46" y="605" width="197" height="79"/>
 <text class="ct" x="71" y="656">Izvēles logs</text>
</g>
<g id="callout-grafiks">
 <rect class="co" x="562" y="935" width="317" height="78"/>
 <text class="ct" x="587" y="984">Datu grafisks attēlojums</text>
</g>
<g id="callout-seg-grafiks">
 <rect class="co" x="664" y="1106" width="366" height="87"/>
 <text class="ct" y="1146"><tspan x="689">SEG</tspan><tspan x="748">emisiju</tspan><tspan x="835">apjoma</tspan><tspan x="921">grafisks</tspan></text>
 <text class="ct" x="689" y="1176">attēlojums</text>
</g>
</svg>
